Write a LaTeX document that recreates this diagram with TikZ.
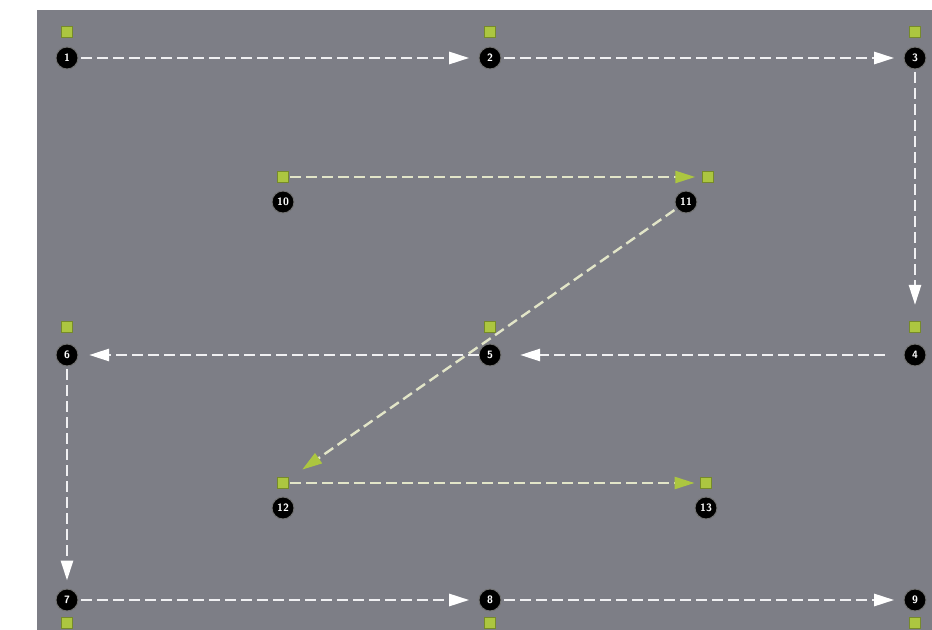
\documentclass[tikz,border=0pt]{standalone}
\usepackage{tikz}
\usetikzlibrary{arrows.meta}
\definecolor{bggray}{RGB}{125,126,134}
\definecolor{mkgreen}{RGB}{172,198,64}
\definecolor{mkedge}{RGB}{118,138,42}
\definecolor{pathwhite}{RGB}{240,240,242}
\definecolor{pathpale}{RGB}{226,229,200}
\tikzset{
  stop/.style={circle,fill=black,draw=black!55!white,line width=0.7pt,inner sep=0pt,minimum size=16.5pt,text=white,font=\sffamily\bfseries\fontsize{8}{8}\selectfont},
  handle/.style={rectangle,fill=mkgreen,draw=mkedge,line width=0.6pt,inner sep=0pt,minimum size=8.5pt},
  route/.style={draw=pathwhite,line width=2pt,dash pattern=on 8pt off 4pt,-{Triangle[length=15pt,width=9pt,color=white]}},
  greenroute/.style={draw=pathpale,line width=1.8pt,dash pattern=on 8pt off 4pt,-{Triangle[length=15pt,width=9pt,color=mkgreen]}}
}
\begin{document}
\begin{tikzpicture}[x=0.75pt,y=0.75pt,yscale=-1,xscale=1]
	\useasboundingbox (0,0) rectangle (932,630);
	%Background
	\fill[white] (0,0) rectangle (932,630);
	\fill[bggray] (37,10) rectangle (932,630);
	
	% Stops
	\node[stop] (n1) at (67,58) {1};
	\node[stop] (n2) at (490,58) {2};
	\node[stop] (n3) at (915,58) {3};
	\node[stop] (n4) at (915,355) {4};
	\node[stop] (n5) at (490,355) {5};
	\node[stop] (n6) at (67,355) {6};
	\node[stop] (n7) at (67,600) {7};
	\node[stop] (n8) at (490,600) {8};
	\node[stop] (n9) at (915,600) {9};
	\node[stop] (n10) at (283,202) {10};
	\node[stop] (n11) at (686,202) {11};
	\node[stop] (n12) at (283,508) {12};
	\node[stop] (n13) at (706,508) {13};
	
	% Handles
	\node[handle] (s1) at (67,32) {};
	\node[handle] (s2) at (490,32) {};
	\node[handle] (s3) at (915,32) {};
	\node[handle] (s4) at (915,327) {};
	\node[handle] (s5) at (490,327) {};
	\node[handle] (s6) at (67,327) {};
	\node[handle] (s7) at (67,623) {};
	\node[handle] (s8) at (490,623) {};
	\node[handle] (s9) at (915,623) {};
	\node[handle] (s10) at (283,177) {};
	\node[handle] (s11) at (708,177) {};
	\node[handle] (s12) at (283,483) {};
	\node[handle] (s13) at (706,483) {};
	
	%Straight Lines
	\draw[route,shorten <=2pt,shorten >=7pt] (n1) -- (n2);
	\draw[route,shorten <=2pt,shorten >=7pt] (n2) -- (n3);
	\draw[route,shorten <=2pt,shorten >=12pt] (n3) -- (s4);
	\draw[route,shorten <=14pt,shorten >=14pt] (n4) -- (n5);
	\draw[route,shorten <=0pt,shorten >=8pt] (n5) -- (n6);
	\draw[route,shorten <=2pt,shorten >=6pt] (n6) -- (n7);
	\draw[route,shorten <=2pt,shorten >=7pt] (n7) -- (n8);
	\draw[route,shorten <=2pt,shorten >=7pt] (n8) -- (n9);
	%Straight Lines
	\draw[greenroute,shorten <=1pt,shorten >=5pt] (s10) -- (s11);
	\draw[greenroute,shorten <=2pt,shorten >=12pt] (n11) -- (s12);
	\draw[greenroute,shorten <=1pt,shorten >=4pt] (s12) -- (s13);
	
\end{tikzpicture}
\end{document}
